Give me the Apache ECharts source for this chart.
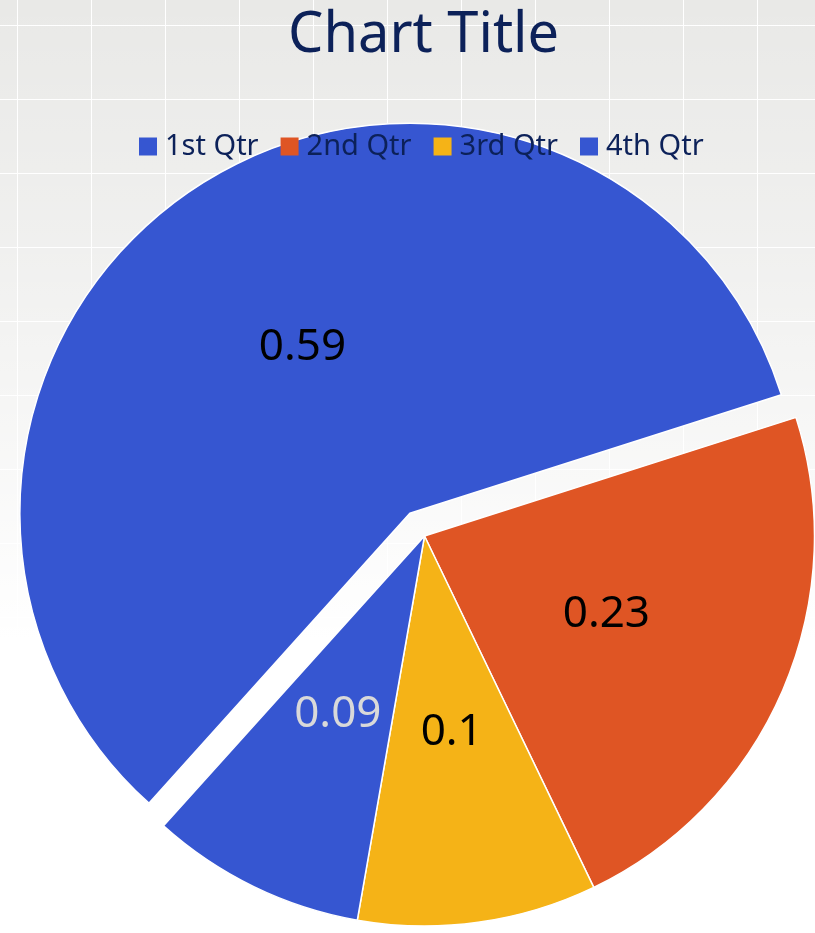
<!DOCTYPE html>
<html>
<head>
<meta charset="utf-8">
<title>Chart Title</title>
<script src="https://cdn.jsdelivr.net/npm/echarts@6/dist/echarts.min.js"></script>
<style>
  html, body {
    margin: 0;
    padding: 0;
  }
  /* light grey sheet with a white grid that fades out towards the bottom */
  .pie-container {
    width: 815px;
    height: 933px;
    background-color: #e9e9e7;
    background-image:
      linear-gradient(to bottom, rgba(255, 255, 255, 0) 0px, rgba(255, 255, 255, 0.35) 260px, #fff 640px),
      linear-gradient(to right, #fff 1.4px, transparent 1.4px),
      linear-gradient(to bottom, #fff 1.4px, transparent 1.4px);
    background-size: 100% 100%, 74px 74px, 74px 74px;
    background-position: 0 0, 17px 0, 0 25px;
  }
</style>
</head>
<body>
<div class="pie-container" id="pieChart"></div>
<script>
const categories = ['1st Qtr', '2nd Qtr', '3rd Qtr', '4th Qtr']
const values = [0.59, 0.23, 0.1, 0.09]

const chartInstance = echarts.init(document.getElementById('pieChart'))

const pieData = values.map((v, i) => {
  const item = { name: categories[i], value: v }
  if (i === 0) item.selected = true
  // the small 4th slice has a pale label
  if (i === 3) item.label = { color: '#d9d9d9' }
  return item
})

const chartOption = {
  animation: false,
  title: {
    text: 'Chart Title',
    left: 283,
    top: 3,
    textStyle: {
      fontFamily: 'Noto Sans',
      fontSize: 56,
      fontWeight: 'normal',
      color: '#0c2159'
    }
  },
  legend: {
    data: categories,
    top: 127,
    left: 134,
    icon: 'rect',
    itemWidth: 18,
    itemHeight: 18,
    itemGap: 22,
    selectedMode: false,
    itemStyle: { borderWidth: 0 },
    textStyle: {
      fontFamily: 'Noto Sans',
      fontSize: 29,
      color: '#0c2159',
      padding: [0, 0, 0, 3]
    }
  },
  color: ['#3656d1', '#df5524', '#f5b317', '#3656d1'],
  series: [
    {
      name: 'Sales',
      type: 'pie',
      center: [424.5, 536],
      radius: 390,
      startAngle: 228,
      clockwise: true,
      selectedMode: 'single',
      selectedOffset: 27,
      z: 1,
      itemStyle: {
        borderColor: '#fff',
        borderWidth: 1.5
      },
      label: {
        show: true,
        position: 'inside',
        formatter: '{c}',
        fontFamily: 'Noto Sans',
        fontSize: 44,
        color: '#000'
      },
      labelLine: { show: false },
      emphasis: { disabled: true },
      data: pieData
    }
  ]
}

chartInstance.setOption(chartOption)
window.addEventListener('resize', () => {
  chartInstance.resize()
})
</script>
</body>
</html>
